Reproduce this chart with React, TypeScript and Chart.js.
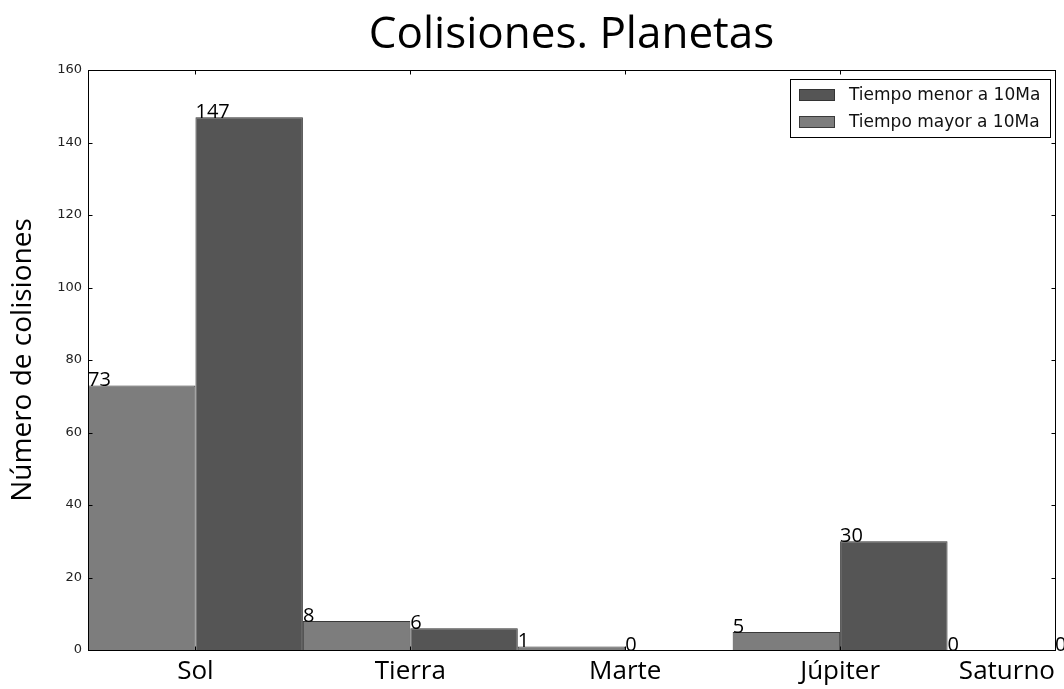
import React, { useEffect, useRef } from 'react';
import { Chart, registerables } from 'chart.js';

Chart.register(...registerables);

// ---- data ----
const categories = ['Sol', 'Tierra', 'Marte', 'Júpiter', 'Saturno'];
const mayorA10Ma = [73, 8, 1, 5, 0];
const menorA10Ma = [147, 6, 0, 30, 0];
const yTickValues = [0, 20, 40, 60, 80, 100, 120, 140, 160];
const seriesLabels = ['Tiempo mayor a 10Ma', 'Tiempo menor a 10Ma'];
const titleText = 'Colisiones. Planetas';
const yTitleText = 'Número de colisiones';

const COMIC = '"Open Sans", "Noto Sans", sans-serif';
const VERA = '"DejaVu Sans", sans-serif';

const whiteBg = {
  id: 'whiteBg',
  beforeDraw(chart: any) {
    const { ctx, width, height } = chart;
    ctx.save();
    ctx.fillStyle = '#ffffff';
    ctx.fillRect(0, 0, width, height);
    ctx.restore();
  },
};

const frame = {
  id: 'frame',
  afterDatasetsDraw(chart: any) {
    const { ctx, chartArea: a, scales } = chart;
    const l = Math.round(a.left) + 0.5;
    const t = Math.round(a.top) + 0.5;
    const r = Math.round(a.right) + 0.5;
    const b = Math.round(a.bottom) + 0.5;
    ctx.save();
    ctx.strokeStyle = '#000';
    ctx.lineWidth = 1;
    ctx.strokeRect(l, t, r - l, b - t);
    ctx.beginPath();
    scales.y.ticks.forEach((tk: any) => {
      const py = Math.round(scales.y.getPixelForValue(tk.value)) + 0.5;
      ctx.moveTo(l, py);
      ctx.lineTo(l + 4, py);
      ctx.moveTo(r, py);
      ctx.lineTo(r - 4, py);
    });
    scales.x.ticks.forEach((tk: any, i: number) => {
      if (i === 0) return;
      const px = Math.round(scales.x.getPixelForValue(tk.value)) + 0.5;
      ctx.moveTo(px, b);
      ctx.lineTo(px, b - 4);
      ctx.moveTo(px, t);
      ctx.lineTo(px, t + 4);
    });
    ctx.stroke();
    ctx.restore();
  },
};

const valueLabels = {
  id: 'valueLabels',
  afterDatasetsDraw(chart: any) {
    const { ctx } = chart;
    ctx.save();
    ctx.font = `20px ${COMIC}`;
    ctx.fillStyle = '#000';
    ctx.textAlign = 'left';
    ctx.textBaseline = 'alphabetic';
    chart.data.datasets.forEach((ds: any, di: number) => {
      const meta = chart.getDatasetMeta(di);
      meta.data.forEach((el: any, i: number) => {
        const v = ds.data[i].y;
        ctx.fillText(String(v), el.x - el.width / 2, el.y + 1);
      });
    });
    ctx.restore();
  },
};

const insetLegend = {
  id: 'insetLegend',
  afterDraw(chart: any) {
    const { ctx, chartArea: a } = chart;
    const ds = chart.data.datasets.slice().reverse();
    ctx.save();
    ctx.font = `17px ${VERA}`;
    const textW = Math.max(...ds.map((d: any) => ctx.measureText(d.label).width));
    const patchW = 36, patchH = 12, padL = 9, gap = 14, padR = 10, rowH = 27, padT = 16;
    const w = Math.round(padL + patchW + gap + textW + padR);
    const h = 58;
    const right = Math.round(a.right) - 5;
    const top = Math.round(a.top) + 9;
    const left = right - w;
    ctx.fillStyle = '#fff';
    ctx.fillRect(left, top, w, h);
    ctx.strokeStyle = '#000';
    ctx.lineWidth = 1;
    ctx.strokeRect(left + 0.5, top + 0.5, w, h);
    ds.forEach((d: any, i: number) => {
      const cy = top + padT + i * rowH;
      ctx.fillStyle = d.backgroundColor;
      ctx.fillRect(left + padL, cy - patchH / 2, patchW, patchH);
      ctx.strokeStyle = d.borderColor;
      ctx.strokeRect(left + padL + 0.5, cy - patchH / 2 + 0.5, patchW - 1, patchH - 1);
      ctx.fillStyle = '#111';
      ctx.textAlign = 'left';
      ctx.textBaseline = 'middle';
      ctx.fillText(d.label, left + padL + patchW + gap, cy + 1);
    });
    ctx.restore();
  },
};

export default function App() {
  const ref = useRef<HTMLCanvasElement | null>(null);

  useEffect(() => {
    if (!ref.current) return;
    const mk = (vals: number[]) => categories.map((_, i) => ({ x: i + 0.5, y: vals[i] }));
    const chart = new Chart(ref.current, {
      type: 'bar',
      data: {
        datasets: [
          {
            label: seriesLabels[0],
            data: mk(mayorA10Ma),
            backgroundColor: '#7d7d7d',
            borderColor: '#3a3a3a',
            borderWidth: 1,
            categoryPercentage: 2,
            barPercentage: 1,
          },
          {
            label: seriesLabels[1],
            data: mk(menorA10Ma),
            backgroundColor: '#555555',
            borderColor: '#333333',
            borderWidth: 1,
            categoryPercentage: 2,
            barPercentage: 1,
          },
        ],
      } as any,
      options: {
        responsive: false,
        animation: false,
        devicePixelRatio: 1,
        layout: { padding: { left: 0, top: 0, right: 9, bottom: 0 } },
        plugins: {
          legend: { display: false },
          tooltip: { enabled: false },
          title: {
            display: true,
            text: titleText,
            fullSize: false,
            color: '#000',
            font: { family: COMIC, size: 44, weight: 'normal' as any },
            padding: { top: 8.6, bottom: 8.6 },
          },
        },
        scales: {
          x: {
            type: 'linear',
            min: 0,
            max: 4.5,
            offset: false,
            grid: { display: false, drawTicks: false },
            border: { display: false },
            afterBuildTicks: (s: any) => {
              s.ticks = [0, ...categories.map((_, i) => i + 0.5)].map((value) => ({ value }));
            },
            ticks: {
              align: 'inner',
              autoSkip: false,
              maxRotation: 0,
              padding: 6,
              color: '#000',
              font: { family: COMIC, size: 26 },
              callback: (_v: any, i: number) => (i === 0 ? '' : categories[i - 1]),
            },
            afterFit: (s: any) => {
              s.height = 39;
              s.paddingLeft = 0;
              s.paddingRight = 0;
            },
          },
          y: {
            min: 0,
            max: 160,
            grid: { display: false, drawTicks: false },
            border: { display: false },
            afterBuildTicks: (s: any) => {
              s.ticks = yTickValues.map((value) => ({ value }));
            },
            ticks: {
              padding: 6,
              color: '#222',
              font: { family: VERA, size: 13 },
            },
            title: {
              display: true,
              text: yTitleText,
              color: '#000',
              font: { family: COMIC, size: 28 },
              padding: { top: 6, bottom: 0 },
            },
            afterFit: (s: any) => {
              s.width = 88;
            },
          },
        } as any,
      },
      plugins: [whiteBg, frame, valueLabels, insetLegend],
    });
    return () => chart.destroy();
  }, []);

  return (
    <div style={{ position: 'fixed', left: 0, top: 0, width: 1064, height: 689, background: '#fff' }}>
      <canvas ref={ref} width={1064} height={689} style={{ display: 'block' }} />
    </div>
  );
}
